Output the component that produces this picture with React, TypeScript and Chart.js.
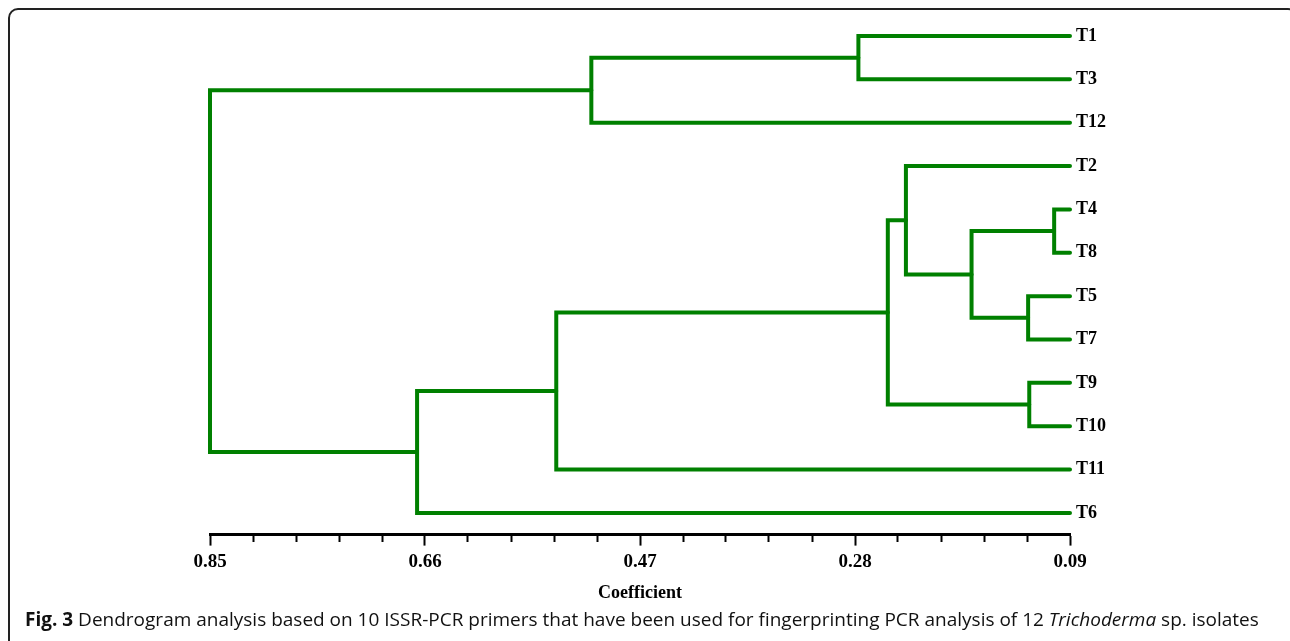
import React, { useEffect, useRef } from "react";
import { Chart, registerables } from "chart.js";

Chart.register(...registerables);

// ---- data ----
const leafLabels = ["T1", "T3", "T12", "T2", "T4", "T8", "T5", "T7", "T9", "T10", "T11", "T6"];
// merges (node ids: leaves 0..11, merged nodes 12+ in order)
const mergeLeft = [0, 12, 4, 6, 14, 3, 8, 17, 19, 20, 13];
const mergeRight = [1, 2, 5, 7, 15, 16, 9, 18, 10, 11, 21];
const mergeHeight = [0.277, 0.513, 0.104, 0.127, 0.177, 0.235, 0.126, 0.251, 0.544, 0.667, 0.85];
const leafHeight = 0.09;
const majorTicks = [0.85, 0.66, 0.47, 0.28, 0.09];
const majorTickLabels = ["0.85", "0.66", "0.47", "0.28", "0.09"];
const minorPerMajor = 4;

const GREEN = "rgb(0,128,0)";

function buildLinks() {
  const n = leafLabels.length;
  const ys: number[] = leafLabels.map((_, i) => i);
  const hs: number[] = leafLabels.map(() => leafHeight);
  const links: { x: number; y: number }[][] = [];
  for (let k = 0; k < mergeLeft.length; k++) {
    const a = mergeLeft[k];
    const b = mergeRight[k];
    const h = mergeHeight[k];
    links.push([
      { x: hs[a], y: ys[a] },
      { x: h, y: ys[a] },
      { x: h, y: ys[b] },
      { x: hs[b], y: ys[b] },
    ]);
    ys[n + k] = (ys[a] + ys[b]) / 2;
    hs[n + k] = h;
  }
  return links;
}

function tickValues() {
  const vals: number[] = [];
  for (let i = 0; i < majorTicks.length; i++) {
    vals.push(majorTicks[i]);
    if (i < majorTicks.length - 1) {
      const step = (majorTicks[i + 1] - majorTicks[i]) / (minorPerMajor + 1);
      for (let j = 1; j <= minorPerMajor; j++) vals.push(majorTicks[i] + step * j);
    }
  }
  return vals;
}

function isMajor(v: number) {
  return majorTicks.some((m) => Math.abs(m - v) < 1e-6);
}

export default function App() {
  const ref = useRef<HTMLCanvasElement | null>(null);

  useEffect(() => {
    if (!ref.current) return;
    const links = buildLinks();
    const chart = new Chart(ref.current, {
      type: "scatter",
      data: {
        datasets: links.map((pts) => ({
          data: pts,
          showLine: true,
          clip: false as any,
          borderColor: GREEN,
          backgroundColor: GREEN,
          borderWidth: 4,
          pointRadius: 0,
          pointHoverRadius: 0,
          borderJoinStyle: "miter" as const,
          borderCapStyle: "round" as const,
          tension: 0,
        })),
      },
      options: {
        animation: false,
        responsive: false,
        layout: { padding: { left: 210, top: 14.3, right: 0, bottom: 36.4 } },
        plugins: {
          legend: { display: false },
          tooltip: { enabled: false },
        },
        scales: {
          x: {
            type: "linear",
            position: "bottom",
            reverse: true,
            min: 0.09,
            max: 0.85,
            afterBuildTicks: (scale: any) => {
              scale.ticks = tickValues().map((v) => ({ value: v }));
            },
            afterFit: (scale: any) => {
              scale.height = 70;
            },
            border: { display: true, color: "#000", width: 3 },
            grid: {
              display: true,
              drawOnChartArea: false,
              drawTicks: true,
              tickLength: 11,
              tickColor: "#000",
              tickWidth: 2,
              tickBorderDash: (ctx: any) => (ctx.tick && isMajor(ctx.tick.value) ? [] : [6, 30]),
            },
            ticks: {
              autoSkip: false,
              maxRotation: 0,
              padding: 5,
              color: "#000",
              font: { family: "'Liberation Serif'", size: 19, weight: "bold" },
              callback: (value: any) => {
                const idx = majorTicks.findIndex((m) => Math.abs(m - Number(value)) < 1e-6);
                return idx >= 0 ? majorTickLabels[idx] : "";
              },
            },
            title: {
              display: true,
              text: "Coefficient",
              color: "#000",
              padding: { top: -2, bottom: 0 },
              font: { family: "'Liberation Serif'", size: 18, weight: "bold" },
            },
          },
          y: {
            type: "linear",
            position: "right",
            reverse: true,
            min: -0.5,
            max: 11.5,
            afterBuildTicks: (scale: any) => {
              scale.ticks = leafLabels.map((_, i) => ({ value: i }));
            },
            afterFit: (scale: any) => {
              scale.width = 220;
            },
            border: { display: false },
            grid: {
              display: true,
              drawOnChartArea: false,
              drawTicks: true,
              tickLength: 6,
              tickColor: "rgba(0,0,0,0)",
            },
            ticks: {
              autoSkip: false,
              padding: 0,
              color: "#000",
              font: { family: "'Liberation Serif'", size: 18, weight: "bold" },
              callback: (value: any) => leafLabels[Math.round(Number(value))] ?? "",
            },
          },
        },
      },
    });
    return () => chart.destroy();
  }, []);

  return (
    <div style={{ position: "absolute", left: 0, top: 0, width: 1290, height: 641, overflow: "hidden", background: "#fff" }}>
      <div
        style={{
          position: "absolute",
          left: 8,
          top: 8,
          width: 1290,
          height: 700,
          border: "2px solid #222",
          borderRadius: 10,
          boxSizing: "border-box",
        }}
      />
      <canvas ref={ref} width={1290} height={641} style={{ position: "absolute", left: 0, top: 0, width: 1290, height: 641 }} />
      <div
        style={{
          position: "absolute",
          left: 25,
          top: 607.6,
          fontFamily: "'Open Sans', sans-serif",
          fontSize: 19,
          lineHeight: "22px",
          color: "#111",
          whiteSpace: "nowrap",
        }}
      >
        <b>Fig. 3</b> Dendrogram analysis based on 10 ISSR-PCR primers that have been used for fingerprinting PCR analysis of 12{" "}
        <i>Trichoderma</i> sp. isolates
      </div>
    </div>
  );
}
